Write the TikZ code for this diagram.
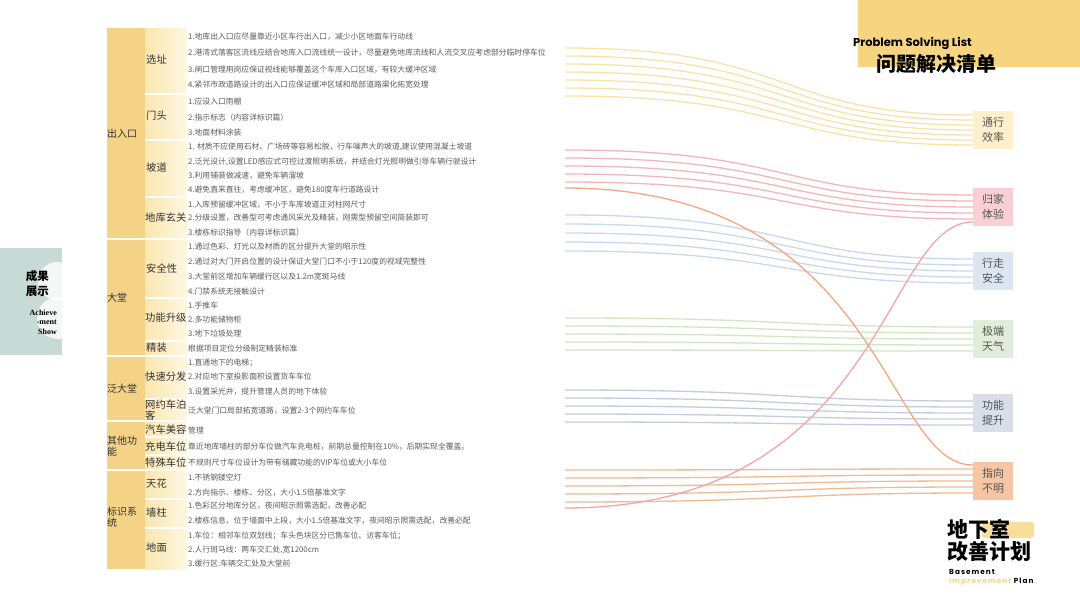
\documentclass[tikz,border=0pt]{standalone}
\usepackage{fontspec}
\setmainfont{Noto Sans CJK SC}
\newfontfamily\enfont{Poppins}
\newfontfamily\enspaced{Poppins}[LetterSpace=14]
\newfontfamily\badgefont{Liberation Serif}
\usetikzlibrary{calc}

\definecolor{gold}{HTML}{F4D386}
\definecolor{subl}{HTML}{FAE6AF}
\definecolor{subr}{HTML}{FEF7E3}
\definecolor{itemc}{HTML}{5C5C5C}
\definecolor{labc}{HTML}{333333}
\definecolor{tagc}{HTML}{555555}
\definecolor{titlebg}{HTML}{F7D580}
\definecolor{badge}{HTML}{C8DAD5}
\definecolor{effbg}{HTML}{FDF1CD}
\definecolor{homebg}{HTML}{F9CFD4}
\definecolor{walkbg}{HTML}{DCE6F2}
\definecolor{wthbg}{HTML}{E1EDD8}
\definecolor{funbg}{HTML}{DADEE9}
\definecolor{dirbg}{HTML}{F6C5A2}
\definecolor{effln}{HTML}{F7E3A9}
\definecolor{homeln}{HTML}{F5B5BC}
\definecolor{walkln}{HTML}{C9D8EE}
\definecolor{wthln}{HTML}{D4E5C6}
\definecolor{funln}{HTML}{C6CBDE}
\definecolor{dirln}{HTML}{F3B990}

% bundle of lines from the list to one tag: colour, tag, {left y/offset,...}
\newcommand{\flow}[3]{%
  \foreach \yl/\dy [count=\k] in {#3} {
    \coordinate (#2-a\k) at (565,\yl);
    \coordinate (#2-b\k) at ($(#2.west)+(0,\dy)$);
    \draw[flowline, #1] (#2-a\k) .. controls +(230,0) and +(-200,0) .. (#2-b\k);
  }%
}

\begin{document}
\begin{tikzpicture}[x=1pt, y=-1pt,
  item/.style={anchor=west, inner sep=0pt, text=itemc, font=\fontsize{7.8}{9}\selectfont},
  sub/.style={anchor=west, inner sep=0pt, align=left, text=labc, font=\fontsize{10.3}{11.5}\selectfont},
  cat/.style={anchor=west, inner sep=0pt, align=left, text=labc, font=\fontsize{10}{11.5}\selectfont},
  tag/.style={minimum width=40pt, minimum height=38pt, inner sep=0pt, align=center, text=tagc, font=\fontsize{11}{14.5}\selectfont},
  sep/.style={white, line width=1.2pt},
  flowline/.style={line width=1.3pt}]
  \useasboundingbox (0,0) rectangle (1080,608);
  \fill[white] (0,0) rectangle (1080,608);

  % Side badge
  \begin{scope}
    \clip (0,248) rectangle (62,355);
    \fill[badge] (0,248) rectangle (62,355);
    \fill[white, opacity=0.8] (57,281) circle (19);
    \fill[white, opacity=0.8] (58,318) circle (21);
  \end{scope}
  \node[anchor=east, align=right, inner sep=0pt, font=\bfseries\fontsize{11.5}{15}\selectfont] (badgecn) at (49,284) {成果\\展示};
  \node[anchor=east, align=right, inner sep=0pt, font=\badgefont\bfseries\fontsize{8}{9.5}\selectfont] (badgeen) at (57,322) {Achieve\\-ment\\Show};

  % Table columns
  \fill[gold] (107,28) rectangle (145,569);
  \shade[left color=subl, right color=subr] (145,28) rectangle (187,569);
  \foreach \y in {239,356,421,470} \draw[sep] (107,\y) -- (187,\y);
  \foreach \y in {94,140,197,298,341,399,437,455,499,528} \draw[sep] (145,\y) -- (187,\y);

  % Categories
  \node[cat] (c1) at (107,134) {出入口};
  \node[cat] (c2) at (107,298) {大堂};
  \node[cat] (c3) at (107,389) {泛大堂};
  \node[cat] (c4) at (107,446) {其他功\\能};
  \node[cat] (c5) at (107,517) {标识系\\统};

  % Sub-categories
  \node[sub] (s1) at (146,60) {选址};
  \node[sub] (s2) at (146,116) {门头};
  \node[sub] (s3) at (146,168) {坡道};
  \node[sub] (s4) at (145,218) {地库玄关};
  \node[sub] (s5) at (146,269) {安全性};
  \node[sub] (s6) at (145,318) {功能升级};
  \node[sub] (s7) at (146,348) {精装};
  \node[sub] (s8) at (145,377) {快速分发};
  \node[sub] (s9) at (145,410) {网约车泊\\客};
  \node[sub] (s10) at (145,430) {汽车美容};
  \node[sub] (s11) at (145,447) {充电车位};
  \node[sub] (s12) at (145,463) {特殊车位};
  \node[sub] (s13) at (146,484) {天花};
  \node[sub] (s14) at (146,513) {墙柱};
  \node[sub] (s15) at (146,548) {地面};

  % Items
  \node[item] (r1) at (188,37) {1.地库出入口应尽量靠近小区车行出入口，减少小区地面车行动线};
  \node[item] (r2) at (188,53) {2.港湾式落客区流线应结合地库入口流线统一设计，尽量避免地库流线和人流交叉应考虑部分临时停车位};
  \node[item] (r3) at (188,70) {3.闸口管理用岗应保证视线能够覆盖这个车库入口区域，有较大缓冲区域};
  \node[item] (r4) at (188,85) {4.紧邻市政道路设计的出入口应保证缓冲区域和局部道路渠化拓宽处理};
  \node[item] (r5) at (188,102) {1.应设入口雨棚};
  \node[item] (r6) at (188,118) {2.指示标志（内容详标识篇）};
  \node[item] (r7) at (188,133) {3.地面材料涂装};
  \node[item] (r8) at (188,147) {1. 材质不应使用石材、广场砖等容易松脱，行车噪声大的坡道,建议使用混凝土坡道};
  \node[item] (r9) at (188,162) {2.泛光设计,设置LED感应式可控过渡照明系统，并结合灯光照明做引导车辆行驶设计};
  \node[item] (r10) at (188,176) {3.利用铺装做减速，避免车辆溜坡};
  \node[item] (r11) at (188,190) {4.避免直来直往，考虑缓冲区，避免180度车行道路设计};
  \node[item] (r12) at (188,205) {1.入库预留缓冲区域，不小于车库坡道正对柱网尺寸};
  \node[item] (r13) at (188,218) {2.分级设置，改善型可考虑通风采光及精装，刚需型预留空间简装即可};
  \node[item] (r14) at (188,233) {3.楼栋标识指导（内容详标识篇）};
  \node[item] (r15) at (188,247) {1.通过色彩、灯光以及材质的区分提升大堂的昭示性};
  \node[item] (r16) at (188,262) {2.通过对大门开启位置的设计保证大堂门口不小于120度的视域完整性};
  \node[item] (r17) at (188,277) {3.大堂前区增加车辆缓行区以及1.2m宽斑马线};
  \node[item] (r18) at (188,292) {4.门禁系统无接触设计};
  \node[item] (r19) at (188,306) {1.手推车};
  \node[item] (r20) at (188,320) {2.多功能储物柜};
  \node[item] (r21) at (188,334) {3.地下垃圾处理};
  \node[item] (r22) at (188,349) {根据项目定位分级制定精装标准};
  \node[item] (r23) at (188,363) {1.直通地下的电梯；};
  \node[item] (r24) at (188,377) {2.对应地下室投影面积设置货车车位};
  \node[item] (r25) at (188,392) {3.设置采光井，提升管理人员的地下体验};
  \node[item] (r26) at (188,411) {泛大堂门口局部拓宽道路，设置2-3个网约车车位};
  \node[item] (r27) at (188,431) {管理};
  \node[item] (r28) at (188,447) {靠近地库墙柱的部分车位做汽车充电桩，前期总量控制在10\%，后期实现全覆盖。};
  \node[item] (r29) at (188,463) {不规则尺寸车位设计为带有储藏功能的VIP车位或大小车位};
  \node[item] (r30) at (188,478) {1.不锈钢镂空灯};
  \node[item] (r31) at (188,493) {2.方向指示、楼栋、分区，大小1.5倍基准文字};
  \node[item] (r32) at (188,506) {1.色彩区分地库分区，夜间昭示照需选配，改善必配};
  \node[item] (r33) at (188,521) {2.楼栋信息，位于墙面中上段，大小1.5倍基准文字，夜间昭示照需选配，改善必配};
  \node[item] (r34) at (188,536) {1.车位：相邻车位双划线；车头色块区分已售车位、访客车位；};
  \node[item] (r35) at (188,550) {2.人行斑马线：两车交汇处,宽1200cm};
  \node[item] (r36) at (188,564) {3.缓行区:车辆交汇处及大堂前};

  % Problem tags
  \node[tag, fill=effbg] (eff) at (993,130) {通行\\效率};
  \node[tag, fill=homebg] (home) at (993,207) {归家\\体验};
  \node[tag, fill=walkbg] (walk) at (993,271) {行走\\安全};
  \node[tag, fill=wthbg] (wth) at (993,339) {极端\\天气};
  \node[tag, fill=funbg] (fun) at (993,413) {功能\\提升};
  \node[tag, fill=dirbg] (dir) at (993,481) {指向\\不明};

  % Flow lines
  \flow{effln}{eff}{48/-15,56/-10,64/-5,72/0,80/5,88/10,96/15}
  \flow{homeln}{home}{150/-12,158/-6,166/0,174/6,182/12}
  \flow{walkln}{walk}{215/-12,224/-6,233/0,242/6,251/12}
  \flow{wthln}{wth}{318/-12,326/-6,334/0,342/6,350/12}
  \flow{funln}{fun}{390/-12,398/-6,406/0,414/6,422/12}
  \flow{dirln}{dir}{470/-12,478/-6,486/0,494/6,502/12}

  % Crossing lines
  \coordinate (xo-a) at (565,188);
  \coordinate (xo-b) at ($(dir.west)+(0,-16)$);
  \coordinate (xp-a) at (565,508);
  \coordinate (xp-b) at ($(home.west)+(0,15)$);
  \draw[flowline, dirln!90!red] (xo-a) .. controls +(320,0) and +(-90,0) .. (xo-b);
  \draw[flowline, homeln!90!red] (xp-a) .. controls +(320,0) and +(-90,0) .. (xp-b);

  % Title block
  \fill[titlebg] (858,0) rectangle (1080,67);
  \node[anchor=west, inner sep=0pt, font=\enfont\bfseries\fontsize{11.5}{12}\selectfont] (ten) at (853,43) {Problem Solving List};
  \node[anchor=west, inner sep=0pt, font=\bfseries\fontsize{20}{20}\selectfont] (tcn) at (876,64) {问题解决清单};

  % Plan logo
  \fill[titlebg!80, rounded corners=3] (982,522) rectangle (1034,538);
  \node[anchor=west, inner sep=0pt, font=\bfseries\fontsize{21}{21}\selectfont] (logo1) at (947,529) {地下室};
  \node[anchor=west, inner sep=0pt, font=\bfseries\fontsize{21}{21}\selectfont] (logo2) at (947,552) {改善计划};
  \node[anchor=west, inner sep=0pt, font=\enspaced\bfseries\fontsize{7.3}{8}\selectfont] (logo3) at (949,572) {Basement};
  \node[anchor=west, inner sep=0pt, font=\enspaced\bfseries\fontsize{7.3}{8}\selectfont] (logo4) at (949,582) {\textcolor{titlebg}{Improvement} Plan};
\end{tikzpicture}
\end{document}
